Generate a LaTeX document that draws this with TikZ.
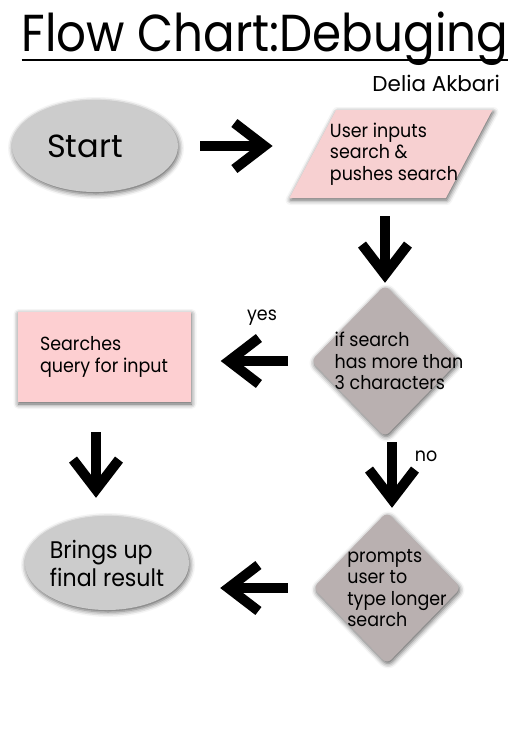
\documentclass[tikz,border=0pt]{standalone}
\usepackage{fontspec}
\setmainfont{Poppins}
\newfontfamily\bodyfont{Poppins}[FakeStretch=0.92]
\newfontfamily\titlefont{Poppins}[FakeStretch=0.9]
\usetikzlibrary{shapes.geometric,arrows.meta,shadows.blur,positioning}

\definecolor{termgray}{HTML}{CCCCCC}
\definecolor{inputpink}{HTML}{F7D0D1}
\definecolor{boxpink}{HTML}{FDCFD1}
\definecolor{decidegray}{HTML}{B9B0B0}

\tikzset{
  softshadow/.style={blur shadow={shadow xshift=1pt, shadow yshift=-2pt, shadow blur radius=5pt, shadow opacity=65}},
  flowtext/.style={font=\bodyfont\fontsize{19}{21.5}\selectfont, align=left, inner sep=0pt},
  terminal/.style={ellipse, fill=termgray, softshadow, inner sep=0pt},
  inputbox/.style={trapezium, trapezium left angle=67, trapezium right angle=113, trapezium stretches=true,
                   fill=inputpink, softshadow, minimum width=203pt, minimum height=88pt},
  processbox/.style={rectangle, fill=boxpink, softshadow, minimum width=173pt, minimum height=90pt},
  decision/.style={diamond, fill=decidegray, softshadow, rounded corners=6pt, minimum width=148pt, minimum height=152pt},
  bigarrow/.style={line width=10pt, -{Straight Barb[length=30pt, width=46pt, line cap=butt, line join=miter]}}
}

\begin{document}
\begin{tikzpicture}[x=1pt, y=-1pt]
  \useasboundingbox (0,0) rectangle (524,753);

  \node[inner sep=0pt, font=\titlefont\fontsize{52}{52}\selectfont] (title) at (265,39) {Flow Chart:Debuging};
  \draw[line width=2pt] ([yshift=-8pt]title.base west) -- ([yshift=-8pt]title.base east);
  \node[anchor=base east, inner sep=0pt, font=\fontsize{21.5}{21.5}\selectfont] (author) at (500,91) {Delia Akbari};

  % shapes
  \node[terminal, minimum width=166pt, minimum height=92pt,
        label={[font=\fontsize{32}{32}\selectfont, xshift=-10pt]center:Start}] (start) at (95,146) {};
  \node[inputbox, label={[flowtext, xshift=3pt]center:{User inputs\\search \&\\pushes search}}] (input) at (391,154) {};
  \node[decision, label={[flowtext, xshift=14pt]center:{if search\\has more than\\3 characters}}] (check) at (385,361) {};
  \node[processbox, flowtext] (search) at (104,357) {Searches\\query for input};
  \node[decision, label={[flowtext, xshift=10pt]center:{prompts\\user to\\type longer\\search}}] (retry) at (387,588) {};
  \node[terminal, minimum width=164pt, minimum height=94pt,
        font=\bodyfont\fontsize{24}{28}\selectfont, align=left] (final) at (107,563) {Brings up\\final result};

  \node[flowtext] (yes) at (262,318) {yes};
  \node[flowtext] (no) at (426,456) {no};

  % arrows
  \draw[bigarrow, shorten <=22pt, shorten >=40pt] (start.east) -- (start.east -| input.west);
  \draw[bigarrow, shorten <=18pt, shorten >=2pt] (check.north |- input.south) -- (check.north);
  \draw[bigarrow, shorten <=23pt, shorten >=30pt] (check.west) -- (check.west -| search.east);
  \draw[bigarrow, shorten <=30pt, shorten >=18pt] ([xshift=-8pt]search.south) -- ([xshift=-8pt]search.south |- final.north);
  \draw[bigarrow, shorten <=5pt, shorten >=4pt] ([xshift=7pt]check.south) -- ([xshift=7pt]check.south |- retry.north);
  \draw[bigarrow, shorten <=25pt, shorten >=31pt] (retry.west) -- (retry.west -| final.east);

\end{tikzpicture}
\end{document}
